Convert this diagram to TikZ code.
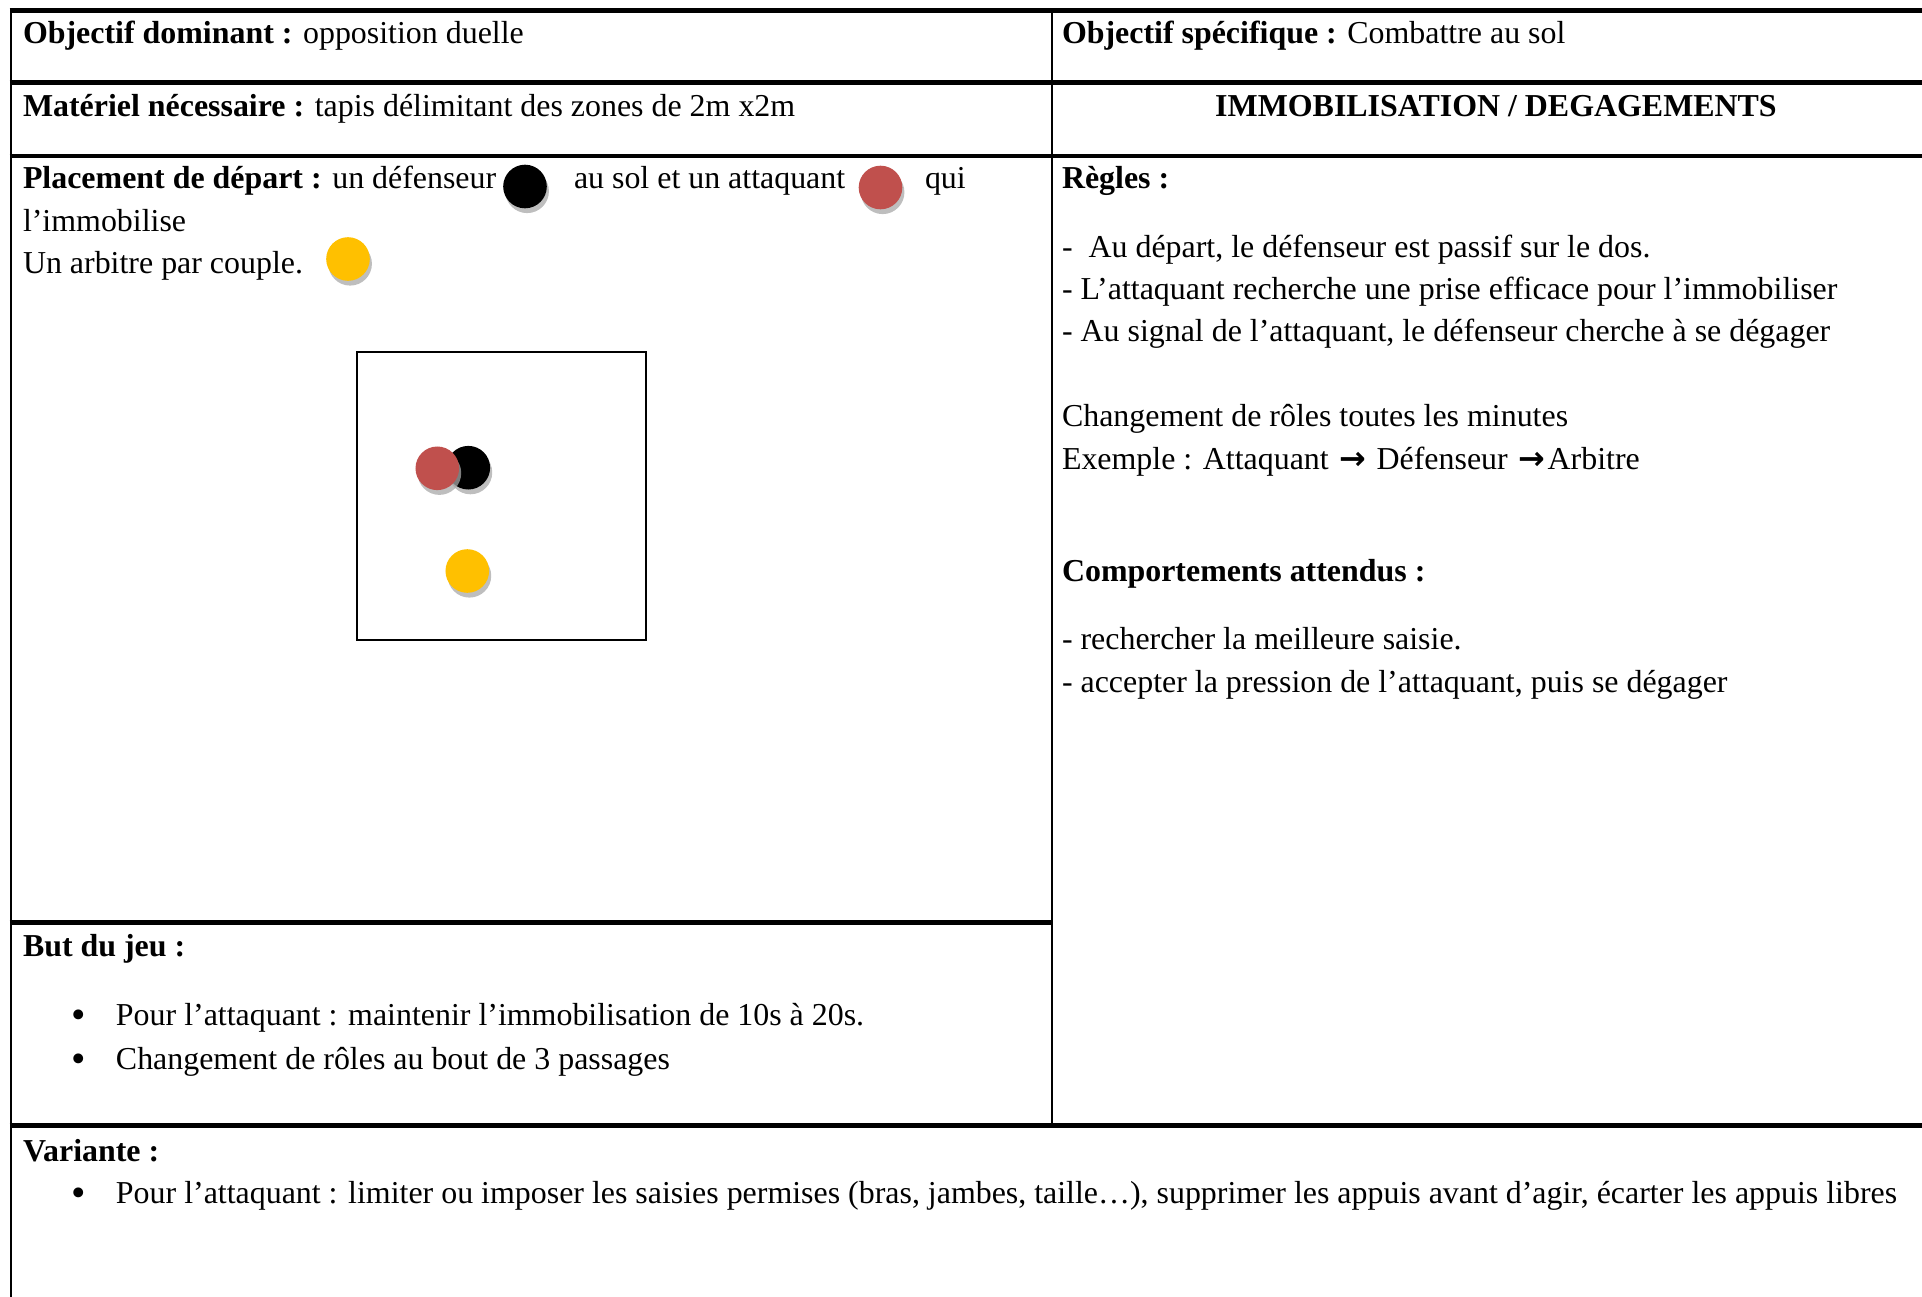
\documentclass[tikz,border=0pt]{standalone}
\usepackage{fontspec}
\setmainfont{Liberation Serif}
\newfontfamily\arrowfont{DejaVu Sans}
\usetikzlibrary{shadows}
\definecolor{tokred}{HTML}{C0504D}
\definecolor{tokyel}{HTML}{FFC000}
\definecolor{shadowgray}{HTML}{A8A8A8}
\newcommand{\tokarrow}{\makebox[12pt]{\arrowfont\bfseries →}}
\begin{document}
\begin{tikzpicture}[x=0.376pt, y=-0.376pt,
  txt/.style={anchor=base west, inner sep=0pt, outer sep=0pt, font=\fontsize{12}{14}\selectfont},
  ctxt/.style={txt, anchor=base},
  bul/.style={anchor=base, inner sep=0pt, outer sep=0pt, font=\fontsize{15.5}{16}\selectfont},
  hrule/.style={line width=1.6pt},
  vrule/.style={line width=1.1pt},
  token/.style={circle, inner sep=0pt, minimum size=16.4pt,
    drop shadow={shadow xshift=0.8pt, shadow yshift=-1.8pt, fill=shadowgray, opacity=0.75}},
]
\useasboundingbox (0,0) rectangle (1922,1297);
\clip (0,0) rectangle (1922,1297);

% table rules
\draw[hrule] (9.5,10.5) -- (1940,10.5);
\draw[hrule] (9.5,82.5) -- (1940,82.5);
\draw[hrule] (9.5,156) -- (1940,156);
\draw[hrule] (9.5,922.5) -- (1052,922.5);
\draw[hrule] (9.5,1125.5) -- (1940,1125.5);
\draw[vrule] (11,8) -- (11,1310);
\draw[vrule] (1052,8) -- (1052,1125);

% mat
\node[draw, line width=0.6pt, inner sep=0pt, minimum width=108.7pt, minimum height=108.3pt] (tapis) at (501.3,495.8) {};
\node[token, fill=black] (matdef) at (468.3,467.7) {};
\node[token, fill=tokred] (matatt) at (437.3,468.3) {};
\node[token, fill=tokyel] (matarb) at (467.3,571) {};

% inline tokens
\node[token, fill=black] (icdef) at (525,186.5) {};
\node[token, fill=tokred] (icatt) at (880.5,187.5) {};
\node[token, fill=tokyel] (icarb) at (348,259) {};

% left column texts
\node[txt] (objdom) at (23,43.5) {\textbf{Objectif dominant :} opposition duelle};
\node[txt] (materiel) at (23,116) {\textbf{Matériel nécessaire :} tapis délimitant des zones de 2m x2m};
\node[txt] (plac1) at (23,188.5) {\textbf{Placement de départ :} un défenseur};
\node[txt] (plac2) at (574,188.5) {au sol et un attaquant};
\node[txt] (plac3) at (925,188.5) {qui};
\node[txt] (plac4) at (23,231) {l’immobilise};
\node[txt] (plac5) at (23,273) {Un arbitre par couple.};
\node[txt] (but) at (23,956.5) {\textbf{But du jeu :}};
\node[bul] (bul1) at (78.5,1028) {•};
\node[txt] (b1) at (116,1025) {Pour l’attaquant : maintenir l’immobilisation de 10s à 20s.};
\node[bul] (bul2) at (78.5,1072) {•};
\node[txt] (b2) at (116,1069) {Changement de rôles au bout de 3 passages};
\node[txt] (var) at (23,1161) {\textbf{Variante :}};
\node[bul] (bul3) at (78.5,1206) {•};
\node[txt] (v1) at (116,1203) {Pour l’attaquant : limiter ou imposer les saisies permises (bras, jambes, taille…), supprimer les appuis avant d’agir, écarter les appuis libres};

% right column texts
\node[txt] (objspe) at (1062,43.5) {\textbf{Objectif spécifique :} Combattre au sol};
\node[ctxt] (titre) at (1496,116) {\textbf{IMMOBILISATION / DEGAGEMENTS}};
\node[txt] (regles) at (1062,188.5) {\textbf{Règles :}};
\node[txt] (r1) at (1062,257.5) {-\ \ Au départ, le défenseur est passif sur le dos.};
\node[txt] (r2) at (1062,299.5) {- L’attaquant recherche une prise efficace pour l’immobiliser};
\node[txt] (r3) at (1062,341.5) {- Au signal de l’attaquant, le défenseur cherche à se dégager};
\node[txt] (r4) at (1062,426) {Changement de rôles toutes les minutes};
\node[txt] (r5) at (1062,469) {Exemple : Attaquant \tokarrow\ Défenseur \tokarrow Arbitre};
\node[txt] (comp) at (1062,581) {\textbf{Comportements attendus :}};
\node[txt] (c1) at (1062,649) {- rechercher la meilleure saisie.};
\node[txt] (c2) at (1062,692) {- accepter la pression de l’attaquant, puis se dégager};
\end{tikzpicture}
\end{document}
